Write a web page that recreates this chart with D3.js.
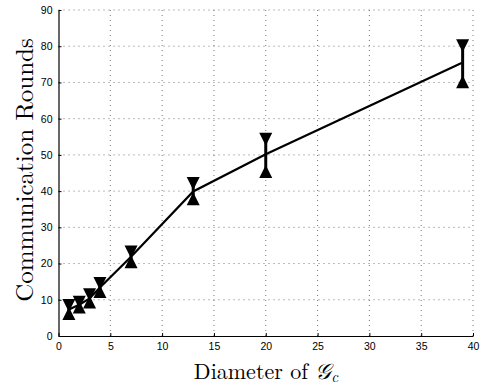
<!DOCTYPE html>
<html>
<head>
<meta charset="utf-8">
<script src="https://cdn.jsdelivr.net/npm/d3@7"></script>
<style>
    body { margin: 0; background: #fff; }
    svg { display: block; }
</style>
</head>
<body>
<svg id="chart"></svg>
<script>
// diameter of the graph and rounds (mean, lower, upper)
const diameters = [1, 2, 3, 4, 7, 13, 20, 39];
const roundsMean = [7.3, 8.6, 10.4, 13.4, 21.9, 39.9, 50.2, 75.5];
const roundsLow = [6.2, 8.0, 9.4, 12.3, 20.5, 37.9, 45.4, 70.2];
const roundsHigh = [8.4, 9.3, 11.4, 14.5, 23.2, 42.1, 54.3, 80.1];
const xTicks = [0, 5, 10, 15, 20, 25, 30, 35, 40];
const yTicks = [0, 10, 20, 30, 40, 50, 60, 70, 80, 90];

const W = 481, H = 387;
const margin = { top: 10, right: 8, bottom: 51, left: 58.5 };

const svg = d3.select('#chart')
    .attr('width', W)
    .attr('height', H);

const x = d3.scaleLinear().domain([0, 40]).range([margin.left, W - margin.right]);
const y = d3.scaleLinear().domain([0, 90]).range([H - margin.bottom, margin.top]);

// dotted grid
const grid = svg.append('g').attr('class', 'grid');
grid.selectAll('line.gx')
    .data(xTicks.filter(d => d > 0))
    .enter()
    .append('line')
    .attr('class', 'gx')
    .attr('x1', d => x(d)).attr('x2', d => x(d))
    .attr('y1', y(0)).attr('y2', y(90))
    .attr('stroke', '#777')
    .attr('stroke-width', 1)
    .attr('stroke-dasharray', '1,4');
grid.selectAll('line.gy')
    .data(yTicks.filter(d => d > 0))
    .enter()
    .append('line')
    .attr('class', 'gy')
    .attr('x1', x(0)).attr('x2', x(40))
    .attr('y1', d => y(d)).attr('y2', d => y(d))
    .attr('stroke', '#777')
    .attr('stroke-width', 1)
    .attr('stroke-dasharray', '1,4');

// axes
const xAxis = svg.append('g')
    .attr('transform', `translate(0,${y(0)})`)
    .call(d3.axisBottom(x).tickValues(xTicks).tickSize(-3).tickPadding(7).tickSizeOuter(0));
const yAxis = svg.append('g')
    .attr('transform', `translate(${x(0)},0)`)
    .call(d3.axisLeft(y).tickValues(yTicks).tickSize(-3).tickPadding(6).tickSizeOuter(0));

[xAxis, yAxis].forEach(a => {
    a.select('.domain').attr('stroke', '#000').attr('stroke-width', 1.2);
    a.selectAll('.tick line').attr('stroke', '#000');
    a.selectAll('.tick text')
        .attr('fill', '#000')
        .style('font-family', '"Liberation Sans", Arial, sans-serif')
        .style('font-size', '10.5px');
});

// mean line
const line = d3.line()
    .x((d, i) => x(diameters[i]))
    .y(d => y(d));

svg.append('path')
    .datum(roundsMean)
    .attr('fill', 'none')
    .attr('stroke', '#000')
    .attr('stroke-width', 2.2)
    .attr('d', line);

// error bars
const bars = svg.append('g').attr('class', 'errorbars');
bars.selectAll('line')
    .data(diameters)
    .enter()
    .append('line')
    .attr('x1', d => x(d)).attr('x2', d => x(d))
    .attr('y1', (d, i) => y(roundsLow[i]))
    .attr('y2', (d, i) => y(roundsHigh[i]))
    .attr('stroke', '#000')
    .attr('stroke-width', 3);

// triangle markers: down at upper end, up at lower end
const tw = 6.5, th = 6.5;
bars.selectAll('path.up')
    .data(diameters)
    .enter()
    .append('path')
    .attr('class', 'up')
    .attr('d', (d, i) => {
        const cx = x(d), cy = y(roundsLow[i]);
        return `M${cx},${cy - th}L${cx + tw},${cy + th}L${cx - tw},${cy + th}Z`;
    })
    .attr('fill', '#000');
bars.selectAll('path.down')
    .data(diameters)
    .enter()
    .append('path')
    .attr('class', 'down')
    .attr('d', (d, i) => {
        const cx = x(d), cy = y(roundsHigh[i]);
        return `M${cx},${cy + th}L${cx + tw},${cy - th}L${cx - tw},${cy - th}Z`;
    })
    .attr('fill', '#000');

// axis labels
const serif = '"Latin Modern Roman", "DejaVu Serif", "Liberation Serif", serif';
const xl = svg.append('text')
    .attr('x', 266)
    .attr('y', 379)
    .attr('text-anchor', 'middle')
    .style('font-family', serif)
    .style('font-size', '22px')
    .attr('fill', '#000');
xl.append('tspan').text('Diameter of ');
xl.append('tspan').style('font-style', 'italic').text('𝒢');
xl.append('tspan').attr('dy', 3).style('font-size', '15px').style('font-style', 'italic').text('c');

svg.append('text')
    .attr('transform', 'translate(33,170) rotate(-90)')
    .attr('text-anchor', 'middle')
    .style('font-family', serif)
    .style('font-size', '25px')
    .attr('fill', '#000')
    .text('Communication Rounds');
</script>
</body>
</html>
